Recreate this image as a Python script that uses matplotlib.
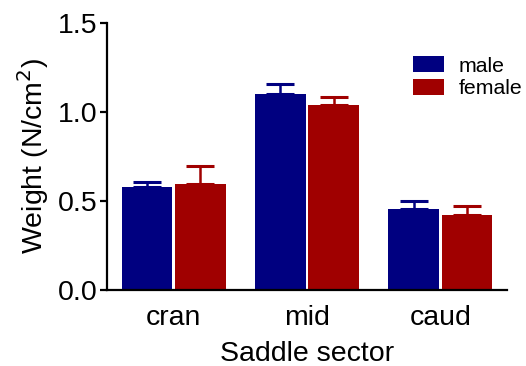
import numpy as np
import matplotlib
matplotlib.use("Agg")
import matplotlib.pyplot as plt

plt.rcParams['font.family'] = ['Liberation Sans', 'DejaVu Sans']

# values
sectors = ["cran", "mid", "caud"]
male_mean = [0.58, 1.104, 0.455]
male_err = [0.026, 0.053, 0.042]
female_mean = [0.595, 1.038, 0.418]
female_err = [0.103, 0.047, 0.053]

navy = "#000080"
darkred = "#a00000"

fig = plt.figure(figsize=(5.26, 3.66), dpi=100)
ax = fig.add_axes([0.2034, 0.209, 0.7605, 0.7273])

x = np.arange(len(sectors))
w = 0.38
ax.bar(x - 0.2, male_mean, w, color=navy, label="male",
       yerr=[np.zeros(3), male_err], error_kw=dict(ecolor=navy, elinewidth=1.8, capsize=9.8, capthick=2.2))
ax.bar(x + 0.2, female_mean, w, color=darkred, label="female",
       yerr=[np.zeros(3), female_err], error_kw=dict(ecolor=darkred, elinewidth=1.8, capsize=9.8, capthick=2.2))

ax.set_xlim(-0.5, 2.5)
ax.set_ylim(0, 1.5)
ax.set_yticks([0.0, 0.5, 1.0, 1.5])
ax.set_yticklabels(["0.0", "0.5", "1.0", "1.5"])
ax.set_xticks(x)
ax.set_xticklabels(sectors)

for s in ["top", "right"]:
    ax.spines[s].set_visible(False)
for s in ["left", "bottom"]:
    ax.spines[s].set_linewidth(1.6)
ax.tick_params(axis="y", length=5, width=1.6, labelsize=20.5, pad=2)
ax.tick_params(axis="x", length=0, labelsize=20.5, pad=11)

ax.set_ylabel("Weight (N/cm$^2$)", fontsize=20.5, labelpad=5)
ax.set_xlabel("Saddle sector", fontsize=20.5, labelpad=7)

fig.legend(*ax.get_legend_handles_labels(), loc="upper left",
           bbox_to_anchor=(413 / 526, 1 - 56 / 366), frameon=False, fontsize=15.3,
           borderpad=0, borderaxespad=0, handlelength=1.46, handleheight=0.8,
           handletextpad=0.7, labelspacing=0.15)

fig.savefig("out.png", dpi=100)
